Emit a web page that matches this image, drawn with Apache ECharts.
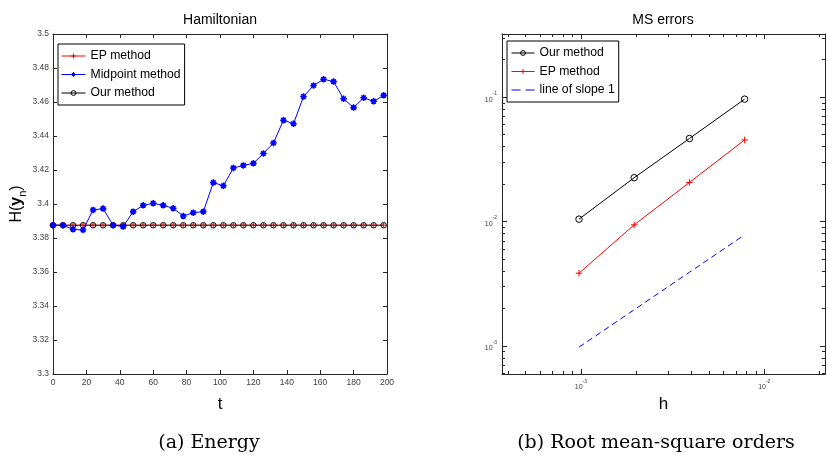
<!DOCTYPE html>
<html><head><meta charset="utf-8">
<script src="https://cdn.jsdelivr.net/npm/echarts@6/dist/echarts.min.js"></script>
<style>html,body{margin:0;padding:0;background:#fff}#c{width:827px;height:458px}</style>
</head><body><div id="c"></div>
<script>
// ---------- data: left panel (Hamiltonian) ----------
const tValues = [0,6,12,18,24,30,36,42,48,54,60,66,72,78,84,90,96,102,108,114,120,126,132,138,144,150,156,162,168,174,180,186,192,198];
const hamMidpoint = [3.3875,3.3875,3.3851,3.3847,3.3965,3.3973,3.3875,3.3867,3.3955,3.3992,3.4004,3.3992,3.3975,3.3929,3.3949,3.3955,3.4126,3.4107,3.4212,3.4227,3.4239,3.4297,3.4359,3.4493,3.4472,3.4632,3.4697,3.4734,3.4720,3.4619,3.4567,3.4625,3.4604,3.4639];
const hamEP  = [3.3875,3.3875,3.3875,3.3875,3.3875,3.3875,3.3875,3.3875,3.3875,3.3875,3.3875,3.3875,3.3875,3.3875,3.3875,3.3875,3.3875,3.3875,3.3875,3.3875,3.3875,3.3875,3.3875,3.3875,3.3875,3.3875,3.3875,3.3875,3.3875,3.3875,3.3875,3.3875,3.3875,3.3875];
const hamOur = [3.3875,3.3875,3.3875,3.3875,3.3875,3.3875,3.3875,3.3875,3.3875,3.3875,3.3875,3.3875,3.3875,3.3875,3.3875,3.3875,3.3875,3.3875,3.3875,3.3875,3.3875,3.3875,3.3875,3.3875,3.3875,3.3875,3.3875,3.3875,3.3875,3.3875,3.3875,3.3875,3.3875,3.3875];
const leftXRange = [0, 200], leftXStep = 20;
const leftYRange = [3.3, 3.5], leftYStep = 0.02;

// ---------- data: right panel (MS errors) ----------
const hValues   = [0.0009765625, 0.001953125, 0.00390625, 0.0078125];
const errOur    = [0.01045, 0.0225, 0.0465, 0.0964];
const errEP     = [0.00384, 0.0094, 0.0206, 0.0453];
const slopeOne  = [0.0009765625, 0.001953125, 0.00390625, 0.0078125];
const rightXRange = [3.715e-4, 0.02143];
const rightYRange = [5.94e-4, 0.322];
const xMajorTicks = [0.001, 0.01];
const yMajorTicks = [0.001, 0.01, 0.1];
const xMinorTicks = [4e-4,5e-4,6e-4,7e-4,8e-4,9e-4,2e-3,3e-3,4e-3,5e-3,6e-3,7e-3,8e-3,9e-3,2e-2];
const yMinorTicks = [6e-4,7e-4,8e-4,9e-4,2e-3,3e-3,4e-3,5e-3,6e-3,7e-3,8e-3,9e-3,2e-2,3e-2,4e-2,5e-2,6e-2,7e-2,8e-2,9e-2,2e-1,3e-1];

const legendLeft  = ['EP method', 'Midpoint method', 'Our method'];
const legendRight = ['Our method', 'EP method', 'line of slope 1'];

// ---------- styling ----------
const AX = '#262626', LBL = '#404040', FONT = 'Liberation Sans';
const PLUS = 'path://M5,0L5,10M0,5L10,5';
const STAR = 'path://M5,0L5,10M0,5L10,5M1.5,1.5L8.5,8.5M8.5,1.5L1.5,8.5';
const RING = 'path://M10,5A5,5,0,1,1,0,5A5,5,0,1,1,10,5Z';
const DASH_ICON = 'path://M0,0L9,0L9,1.2L0,1.2ZM14,0L23,0L23,1.2L14,1.2Z';
const NOFILL = 'rgba(0,0,0,0)';

function linAxis(gridIndex, position, range, step, showLabel, extra) {
  return Object.assign({
    type: 'value', gridIndex, position, min: range[0], max: range[1], interval: step,
    axisLine: {show: true, onZero: false, lineStyle: {color: AX, width: 1}},
    axisTick: {show: true, inside: true, length: 4, lineStyle: {color: AX, width: 1}},
    axisLabel: {show: showLabel, color: LBL, fontFamily: FONT, fontSize: 8.5, margin: 4},
    splitLine: {show: false}
  }, extra || {});
}
function logFmt(v) {
  const e = Math.round(Math.log10(v));
  return '{b|10}{s|' + e + '}';
}
const logRich = {
  b: {fontSize: 7, fontFamily: FONT, color: LBL, lineHeight: 12, verticalAlign: 'bottom'},
  s: {fontSize: 5, fontFamily: FONT, color: LBL, lineHeight: 8, verticalAlign: 'top'}
};
function logAxis(gridIndex, position, range, ticks, isMajor, showLabel, extra) {
  return Object.assign({
    type: 'log', logBase: 10, gridIndex, position, min: range[0], max: range[1],
    axisLine: {show: isMajor, onZero: false, lineStyle: {color: AX, width: 1}},
    axisTick: {show: true, inside: true, length: isMajor ? 5 : 3, customValues: ticks, lineStyle: {color: AX, width: 1}},
    axisLabel: {show: showLabel, customValues: ticks, formatter: logFmt, rich: logRich, margin: 5},
    splitLine: {show: false}, minorTick: {show: false}
  }, extra || {});
}

const nameStyle = {fontSize: 17, fontFamily: FONT, color: '#000'};
const legendCommon = {
  orient: 'vertical', itemWidth: 24, itemHeight: 6, borderColor: '#000', borderWidth: 1, borderRadius: 0,
  backgroundColor: '#fff', textStyle: {fontSize: 12.2, fontFamily: FONT, color: '#000'},
  lineStyle: {width: 1}, itemStyle: {borderWidth: 1}
};

const option = {
  animation: false,
  backgroundColor: '#fff',
  grid: [
    {left: 53, top: 34, width: 334, height: 340},
    {left: 502, top: 34, width: 323, height: 340}
  ],
  xAxis: [
    linAxis(0, 'bottom', leftXRange, leftXStep, true, {name: 't', nameLocation: 'middle', nameGap: 22, nameTextStyle: nameStyle}),
    linAxis(0, 'top', leftXRange, leftXStep, false),
    logAxis(1, 'bottom', rightXRange, xMajorTicks, true, true, {name: 'h', nameLocation: 'middle', nameGap: 22, nameTextStyle: nameStyle}),
    logAxis(1, 'bottom', rightXRange, xMinorTicks, false, false),
    logAxis(1, 'top', rightXRange, xMajorTicks, true, false),
    logAxis(1, 'top', rightXRange, xMinorTicks, false, false)
  ],
  yAxis: [
    linAxis(0, 'left', leftYRange, leftYStep, true, {
      name: '{h|H(}{y|y}{n|n}{h|)}', nameLocation: 'middle', nameGap: 24, nameRotate: 90,
      nameTextStyle: {rich: {
        h: {fontSize: 16, fontFamily: FONT, color: '#000', lineHeight: 24},
        y: {fontSize: 16, fontFamily: FONT, fontWeight: 'bold', color: '#000', lineHeight: 24},
        n: {fontSize: 11, fontFamily: FONT, color: '#000', lineHeight: 11, verticalAlign: 'bottom'}
      }}
    }),
    linAxis(0, 'right', leftYRange, leftYStep, false),
    logAxis(1, 'left', rightYRange, yMajorTicks, true, true),
    logAxis(1, 'left', rightYRange, yMinorTicks, false, false),
    logAxis(1, 'right', rightYRange, yMajorTicks, true, false),
    logAxis(1, 'right', rightYRange, yMinorTicks, false, false)
  ],
  legend: [
    Object.assign({data: legendLeft, left: 58, top: 44, itemGap: 6.5, padding: [6, 4, 6, 3]}, legendCommon),
    Object.assign({
      data: [legendRight[0], legendRight[1], {name: legendRight[2], icon: DASH_ICON, itemStyle: {color: '#0000ff', borderWidth: 0}}],
      left: 507, top: 41, itemGap: 6.5, padding: [6, 4, 6, 4]
    }, legendCommon, {itemWidth: 23})
  ],
  series: [
    {name: 'Our method', type: 'line', xAxisIndex: 0, yAxisIndex: 0,
     data: tValues.map((t, i) => [t, hamOur[i]]),
     color: '#000', lineStyle: {color: '#000', width: 1},
     symbol: RING, symbolSize: 5.5, itemStyle: {color: NOFILL, borderColor: '#000', borderWidth: 1}},
    {name: 'EP method', type: 'line', xAxisIndex: 0, yAxisIndex: 0,
     data: tValues.map((t, i) => [t, hamEP[i]]),
     color: '#ff0000', lineStyle: {color: '#ff0000', width: 1},
     symbol: PLUS, symbolSize: 5, itemStyle: {color: '#ff0000', borderColor: '#ff0000', borderWidth: 1}},
    {name: 'Midpoint method', type: 'line', xAxisIndex: 0, yAxisIndex: 0,
     data: tValues.map((t, i) => [t, hamMidpoint[i]]),
     color: '#0000ff', lineStyle: {color: '#0000ff', width: 1},
     symbol: STAR, symbolSize: 6.5, itemStyle: {color: '#0000ff', borderColor: '#0000ff', borderWidth: 1.6}},

    {name: 'Our method', type: 'line', xAxisIndex: 2, yAxisIndex: 2,
     data: hValues.map((h, i) => [h, errOur[i]]),
     color: '#000', lineStyle: {color: '#000', width: 1},
     symbol: RING, symbolSize: 6.5, itemStyle: {color: NOFILL, borderColor: '#000', borderWidth: 1}},
    {name: 'EP method', type: 'line', xAxisIndex: 2, yAxisIndex: 2,
     data: hValues.map((h, i) => [h, errEP[i]]),
     color: '#ff0000', lineStyle: {color: '#ff0000', width: 1},
     symbol: PLUS, symbolSize: 6.5, itemStyle: {color: '#ff0000', borderColor: '#ff0000', borderWidth: 1}},
    {name: 'line of slope 1', type: 'line', xAxisIndex: 2, yAxisIndex: 2,
     data: hValues.map((h, i) => [h, slopeOne[i]]),
     color: '#0000ff', lineStyle: {color: '#0000ff', width: 1, type: [6, 4]},
     symbol: 'none', showSymbol: false}
  ],
  graphic: [
    {type: 'text', x: 220, y: 20, style: {text: 'Hamiltonian', align: 'center', verticalAlign: 'middle', font: '14px "Liberation Sans"', fill: '#000'}},
    {type: 'text', x: 663, y: 20, style: {text: 'MS errors', align: 'center', verticalAlign: 'middle', font: '14px "Liberation Sans"', fill: '#000'}},
    {type: 'text', x: 209, y: 443, style: {text: '(a) Energy', align: 'center', verticalAlign: 'middle', font: '19px "DejaVu Serif"', fill: '#000'}},
    {type: 'text', x: 656, y: 443, style: {text: '(b) Root mean-square orders', align: 'center', verticalAlign: 'middle', font: '19px "DejaVu Serif"', fill: '#000'}}
  ]
};
const chart = echarts.init(document.getElementById('c'));
chart.setOption(option);
</script>
</body></html>
